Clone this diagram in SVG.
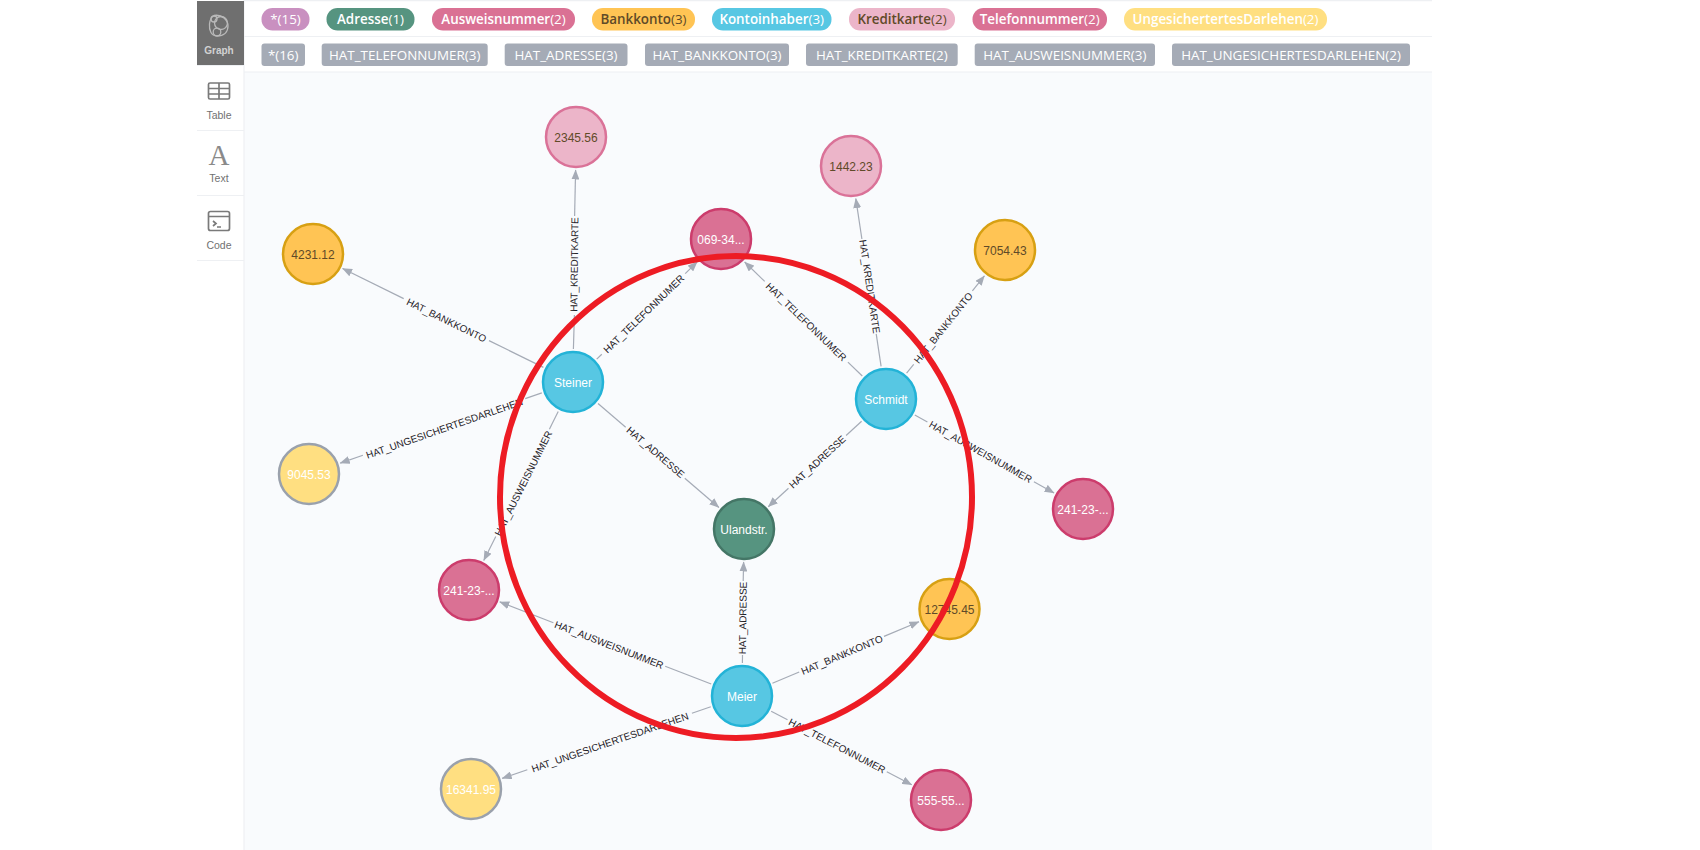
<svg xmlns="http://www.w3.org/2000/svg" width="1700" height="850" viewBox="0 0 1700 850">
<style>
text{font-family:"Liberation Sans",Arial,sans-serif}
.p{font-family:"Open Sans","Liberation Sans",sans-serif;font-size:13.400px;text-anchor:middle}
.b{font-weight:600}
.w{fill:#fff}
.d{fill:#604a28}
.n{font-size:12px;text-anchor:middle}
.l{font-size:10px;text-anchor:middle;fill:#1f2127}
.e line{stroke:#a5abb6;stroke-width:1.2;fill:none}
.e line.a{marker-end:url(#arr)}
.side{font-size:10.500px;text-anchor:middle;fill:#717172}
.ic{fill:none;stroke:#7a7a7a;stroke-width:1.700}
.c{stroke-width:2.500}
</style>
<defs>
<marker id="arr" viewBox="0 0 10 8" refX="9.5" refY="4" markerWidth="10" markerHeight="8" markerUnits="userSpaceOnUse" orient="auto"><path d="M0 0L10 4L0 8z" fill="#a5abb6"/></marker>
</defs>
<rect width="1700" height="850" fill="#fff"/>
<rect x="244" y="72" width="1188" height="778" fill="#f9fbfd"/>
<g fill="none" stroke="#eef0f3" stroke-width="1.2">
<path d="M244 0.6H1432M244 36.5H1432M244 72H1432"/>
<path d="M244 0V850"/>
<path d="M197 65.5H244M197 130.5H244M197 195.5H244M197 260.5H244"/>
</g>
<g id="sidebar">
<rect x="197" y="1" width="47" height="64" fill="#6f6f6f"/>
<g fill="none" stroke="#b9b9b9" stroke-width="1.3"><path d="M214 15.500C222 14 228 20 228 26C228 32 224 36 217 36C211 36 209 30 209.500 24C210 20 211 17 214 15.500Z"/><circle cx="214" cy="19" r="3"/><circle cx="221" cy="23" r="6.500"/><circle cx="217" cy="32" r="3.800"/></g>
<text x="219" y="54" class="side" style="fill:#d2d2d2;font-weight:700;font-size:10px">Graph</text>
<g class="ic"><rect x="208.500" y="83" width="21" height="16" rx="1.500"/><path d="M208.500 88.500H229.500M208.500 94H229.500M219 83V99"/></g>
<text x="219" y="119" class="side">Table</text>
<text x="219" y="165" style="font-family:'Liberation Serif',serif;font-size:29px;text-anchor:middle;fill:#8a8a8a">A</text>
<text x="219" y="182" class="side">Text</text>
<g class="ic"><rect x="208.500" y="211.500" width="21" height="19" rx="2"/><path d="M208.500 216.500H229.500M213 221l3 2.500l-3 2.500M217 227H221"/></g>
<text x="219" y="249" class="side">Code</text>
</g>
<g id="legend">
<g><rect x="261.500" y="8" width="48" height="22.500" rx="11" fill="#c990c0"/><text x="285.500" y="24" class="p w">*(15)</text></g>
<g><rect x="326.500" y="8" width="88" height="22.500" rx="11" fill="#569480"/><text x="370.500" y="24" class="p w"><tspan class="b">Adresse</tspan>(1)</text></g>
<g><rect x="432" y="8" width="143" height="22.500" rx="11" fill="#da7194"/><text x="503.500" y="24" class="p w"><tspan class="b">Ausweisnummer</tspan>(2)</text></g>
<g><rect x="592" y="8" width="103" height="22.500" rx="11" fill="#ffc454"/><text x="643.500" y="24" class="p d"><tspan class="b">Bankkonto</tspan>(3)</text></g>
<g><rect x="712" y="8" width="119.500" height="22.500" rx="11" fill="#57c7e3"/><text x="771.700" y="24" class="p w"><tspan class="b">Kontoinhaber</tspan>(3)</text></g>
<g><rect x="849" y="8" width="106" height="22.500" rx="11" fill="#ecb5c9"/><text x="902" y="24" class="p d"><tspan class="b">Kreditkarte</tspan>(2)</text></g>
<g><rect x="972.500" y="8" width="134.500" height="22.500" rx="11" fill="#da7194"/><text x="1039.700" y="24" class="p w"><tspan class="b">Telefonnummer</tspan>(2)</text></g>
<g><rect x="1124" y="8" width="203" height="22.500" rx="11" fill="#ffdf81"/><text x="1225.500" y="24" class="p w"><tspan class="b">UngesichertertesDarlehen</tspan>(2)</text></g>
<g class="w"><rect x="261.500" y="43.500" width="43.500" height="22.500" rx="3" fill="#a5abb6"/><text x="283.200" y="59.500" class="p">*(16)</text></g>
<g class="w"><rect x="321.700" y="43.500" width="166" height="22.500" rx="3" fill="#a5abb6"/><text x="404.700" y="59.500" class="p">HAT_TELEFONNUMER(3)</text></g>
<g class="w"><rect x="504.700" y="43.500" width="122.800" height="22.500" rx="3" fill="#a5abb6"/><text x="566" y="59.500" class="p">HAT_ADRESSE(3)</text></g>
<g class="w"><rect x="645" y="43.500" width="144" height="22.500" rx="3" fill="#a5abb6"/><text x="717" y="59.500" class="p">HAT_BANKKONTO(3)</text></g>
<g class="w"><rect x="806" y="43.500" width="151.700" height="22.500" rx="3" fill="#a5abb6"/><text x="881.800" y="59.500" class="p">HAT_KREDITKARTE(2)</text></g>
<g class="w"><rect x="974.700" y="43.500" width="180.300" height="22.500" rx="3" fill="#a5abb6"/><text x="1064.800" y="59.500" class="p">HAT_AUSWEISNUMMER(3)</text></g>
<g class="w"><rect x="1172" y="43.500" width="238" height="22.500" rx="3" fill="#a5abb6"/><text x="1291" y="59.500" class="p">HAT_UNGESICHERTESDARLEHEN(2)</text></g>
</g>
<g id="connectors" class="e">
<line x1="573.400" y1="349" x2="574.400" y2="315"/><line class="a" x1="574.600" y1="216" x2="575.600" y2="170"/>
<line x1="596.700" y1="359.100" x2="601.800" y2="354.200"/><line class="a" x1="685.200" y1="273.600" x2="697.200" y2="261.900"/>
<line x1="543.400" y1="367.400" x2="489" y2="340.600"/><line class="a" x1="403.700" y1="298.600" x2="342.600" y2="268.500"/>
<line x1="541.800" y1="392.900" x2="525.200" y2="398.600"/><line class="a" x1="362.900" y1="455.200" x2="340.200" y2="463.100"/>
<line x1="558.200" y1="411.500" x2="549.400" y2="429.200"/><line class="a" x1="495.800" y1="536.500" x2="483.800" y2="560.400"/>
<line x1="598" y1="403.500" x2="625.700" y2="427.300"/><line class="a" x1="684.800" y1="478.200" x2="718.900" y2="507.500"/>
<line x1="881.100" y1="366.400" x2="876.200" y2="333.900"/><line class="a" x1="861.900" y1="239" x2="855.800" y2="198.600"/>
<line x1="862.300" y1="376" x2="847.900" y2="362.100"/><line class="a" x1="764.700" y1="281.400" x2="744.700" y2="262"/>
<line x1="906.600" y1="373.200" x2="913.700" y2="364.300"/><line class="a" x1="972.400" y1="290.900" x2="984.400" y2="275.800"/>
<line x1="914.800" y1="415.100" x2="927.400" y2="422.100"/><line class="a" x1="1033.900" y1="481.700" x2="1054.100" y2="493"/>
<line x1="861.600" y1="421.300" x2="846.100" y2="435.500"/><line class="a" x1="788.500" y1="488.200" x2="768.300" y2="506.700"/>
<line x1="742.400" y1="663" x2="742.500" y2="655"/><line class="a" x1="743.200" y1="581" x2="743.600" y2="562"/>
<line x1="711.200" y1="684" x2="665.200" y2="666.200"/><line class="a" x1="553.400" y1="622.700" x2="499.800" y2="601.900"/>
<line x1="772.400" y1="683.200" x2="799.200" y2="672"/><line class="a" x1="884" y1="636.400" x2="919" y2="621.700"/>
<line x1="710.800" y1="706.700" x2="691.900" y2="713.200"/><line class="a" x1="527.300" y1="769.800" x2="502.200" y2="778.400"/>
<line x1="771.200" y1="711.300" x2="787.500" y2="719.800"/><line class="a" x1="886.800" y1="771.700" x2="911.700" y2="784.700"/>
<g id="edge-labels">
<text class="l" transform="translate(574.500 264.500) rotate(-89.300)" dy="3.300">HAT_KREDITKARTE</text>
<text class="l" transform="translate(644 314) rotate(-44)" dy="3.300">HAT_TELEFONNUMER</text>
<text class="l" transform="translate(446.500 320.500) rotate(26.200)" dy="3.300">HAT_BANKKONTO</text>
<text class="l" transform="translate(444.500 428.500) rotate(-19.200)" dy="3.300">HAT_UNGESICHERTESDARLEHEN</text>
<text class="l" transform="translate(523.500 483.500) rotate(-63.400)" dy="3.300">HAT_AUSWEISNUMMER</text>
<text class="l" transform="translate(655.500 452.500) rotate(40.700)" dy="3.300">HAT_ADRESSE</text>
<text class="l" transform="translate(869.500 286.500) rotate(81.500)" dy="3.300">HAT_KREDITKARTE</text>
<text class="l" transform="translate(806 322) rotate(44.100)" dy="3.300">HAT_TELEFONNUMER</text>
<text class="l" transform="translate(943.500 328) rotate(-51.400)" dy="3.300">HAT_BANKKONTO</text>
<text class="l" transform="translate(980.500 452) rotate(29.200)" dy="3.300">HAT_AUSWEISNUMMER</text>
<text class="l" transform="translate(817.500 462) rotate(-42.500)" dy="3.300">HAT_ADRESSE</text>
<text class="l" transform="translate(743 618) rotate(-89.300)" dy="3.300">HAT_ADRESSE</text>
<text class="l" transform="translate(609 645) rotate(21.200)" dy="3.300">HAT_AUSWEISNUMMER</text>
<text class="l" transform="translate(842 655) rotate(-22.800)" dy="3.300">HAT_BANKKONTO</text>
<text class="l" transform="translate(610 742.500) rotate(-18.900)" dy="3.300">HAT_UNGESICHERTESDARLEHEN</text>
<text class="l" transform="translate(837 746) rotate(27.400)" dy="3.300">HAT_TELEFONNUMER</text>
</g>
</g>
<g id="n-steiner"><circle class="c" cx="573" cy="382" r="30" fill="#57c7e3" stroke="#23b3d7"/><text x="573" y="387" class="n w">Steiner</text></g>
<g id="n-schmidt"><circle class="c" cx="886" cy="399" r="30" fill="#57c7e3" stroke="#23b3d7"/><text x="886" y="404" class="n w">Schmidt</text></g>
<g id="n-meier"><circle class="c" cx="742" cy="696" r="30" fill="#57c7e3" stroke="#23b3d7"/><text x="742" y="701" class="n w">Meier</text></g>
<g id="n-uland"><circle class="c" cx="744" cy="529" r="30" fill="#569480" stroke="#447666"/><text x="744" y="534" class="n w">Ulandstr.</text></g>
<g id="n-kk1"><circle class="c" cx="576" cy="137" r="30" fill="#ecb5c9" stroke="#da7298"/><text x="576" y="142" class="n d">2345.56</text></g>
<g id="n-kk2"><circle class="c" cx="851" cy="166" r="30" fill="#ecb5c9" stroke="#da7298"/><text x="851" y="171" class="n d">1442.23</text></g>
<g id="n-t1"><circle class="c" cx="721" cy="239" r="30" fill="#da7194" stroke="#cc3c6c"/><text x="721" y="244" class="n w">069-34...</text></g>
<g id="n-t2"><circle class="c" cx="941" cy="800" r="30" fill="#da7194" stroke="#cc3c6c"/><text x="941" y="805" class="n w">555-55...</text></g>
<g id="n-b1"><circle class="c" cx="313" cy="254" r="30" fill="#ffc454" stroke="#d7a013"/><text x="313" y="259" class="n d">4231.12</text></g>
<g id="n-b2"><circle class="c" cx="1005" cy="250" r="30" fill="#ffc454" stroke="#d7a013"/><text x="1005" y="255" class="n d">7054.43</text></g>
<g id="n-b3"><circle class="c" cx="949.500" cy="609" r="30" fill="#ffc454" stroke="#d7a013"/><text x="949.500" y="614" class="n d">12745.45</text></g>
<g id="n-u1"><circle class="c" cx="309" cy="474" r="30" fill="#ffdf81" stroke="#9aa1ac"/><text x="309" y="479" class="n w">9045.53</text></g>
<g id="n-u2"><circle class="c" cx="471" cy="789" r="30" fill="#ffdf81" stroke="#9aa1ac"/><text x="471" y="794" class="n w">16341.95</text></g>
<g id="n-a1"><circle class="c" cx="469" cy="590" r="30" fill="#da7194" stroke="#cc3c6c"/><text x="469" y="595" class="n w">241-23-...</text></g>
<g id="n-a2"><circle class="c" cx="1083" cy="509" r="30" fill="#da7194" stroke="#cc3c6c"/><text x="1083" y="514" class="n w">241-23-...</text></g>
<ellipse id="highlight" cx="736" cy="497" rx="236" ry="241" fill="none" stroke="#ed1c24" stroke-width="6"/>
</svg>
